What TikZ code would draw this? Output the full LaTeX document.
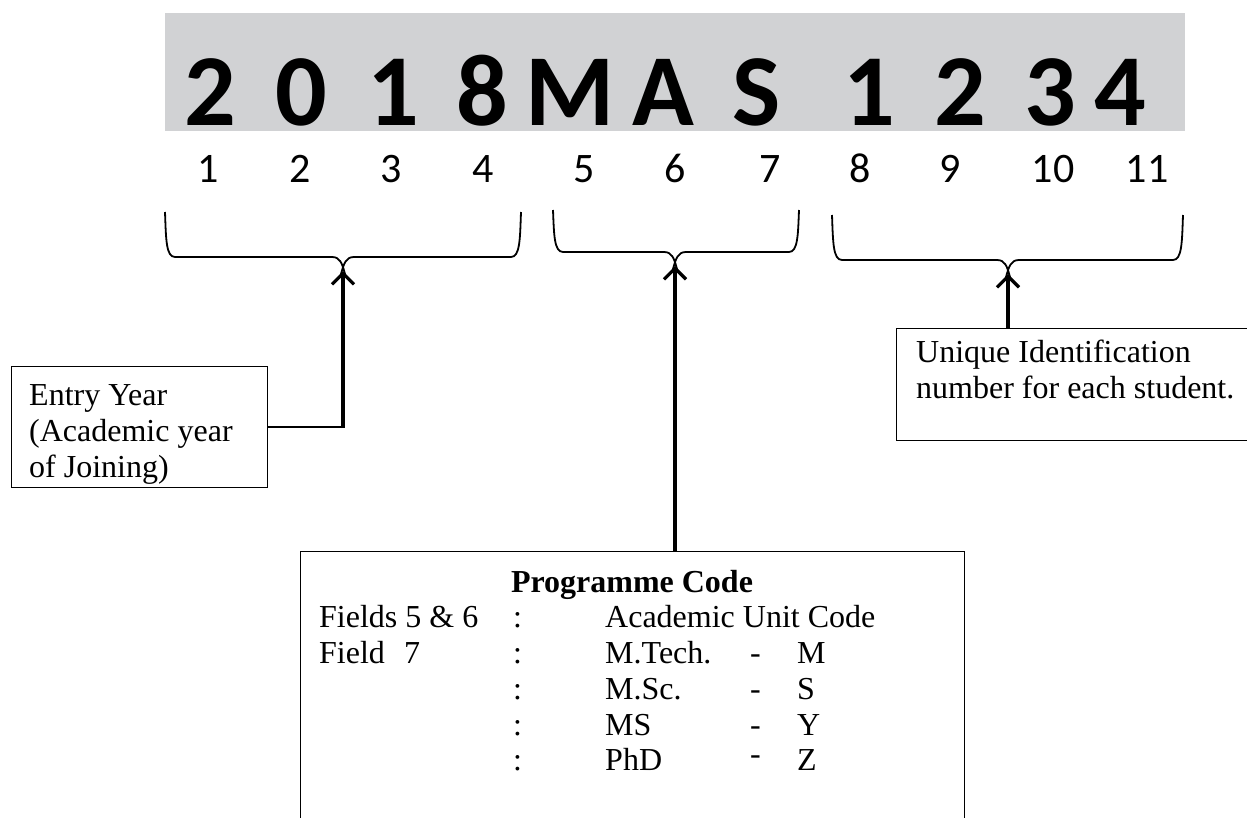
\documentclass[tikz,border=0pt]{standalone}
\usepackage{fontspec}
\setmainfont{Liberation Serif}
\newfontfamily\calibri{Carlito}
\usetikzlibrary{arrows.meta}
\definecolor{bannergray}{RGB}{209,210,212}

% bracket under a group of fields: #1 left x, #2 right x, #3 centre x,
% #4 top y, #5 y of the horizontal bar, #6 name of the tip coordinate
\newcommand\codebrace[6]{%
  \draw[bracket] (#1,#4) .. controls (#1+1,#5-18) and (#1+1,#5) .. (#1+10,#5)
    -- (#3-11,#5) .. controls (#3-3,#5) and (#3-1,#5+6) .. (#3+2,#5+17);
  \draw[bracket] (#2,#4) .. controls (#2-1,#5-18) and (#2-1,#5) .. (#2-10,#5)
    -- (#3+11,#5) .. controls (#3+3,#5) and (#3+1,#5+6) .. (#3-2,#5+17);
  \coordinate (#6) at (#3,#5+14);}

\begin{document}
\begin{tikzpicture}[x=1pt,y=-1pt,
  digit/.style={font=\calibri\bfseries\fontsize{102}{102}\selectfont, anchor=base, inner sep=0},
  fieldno/.style={font=\calibri\fontsize{42}{42}\selectfont, anchor=base, inner sep=0},
  txt/.style={font=\fontsize{32}{36}\selectfont, anchor=base west, inner sep=0},
  boxline/.style={draw=black, line width=1.3, inner sep=0, anchor=north west},
  bracket/.style={line width=1.8, line join=round},
  thinlink/.style={line width=1.6},
  arr/.style={line width=3.2, -{Straight Barb[length=11pt,width=22pt]}}]
\useasboundingbox (0,0) rectangle (1247,817);
\clip (0,0) rectangle (1247,817);

% the roll number on its grey strip
\fill[bannergray] (165,13) rectangle (1185,131);
\foreach \c/\x [count=\i] in {2/210,0/301,1/393,8/482,M/570,A/663,S/757,1/869,2/960,3/1050,4/1120}
  \node[digit] (d\i) at (\x,125) {\c};

% field positions
\foreach \x [count=\i] in {208,300,391,483,584,675,770,860,950,1053,1147}
  \node[fieldno] (p\i) at (\x,182) {\i};

% brackets over the three groups
\codebrace{165}{521}{343}{212}{257}{tipyear}
\codebrace{553}{799}{675}{210}{252}{tipprog}
\codebrace{832}{1183}{1008}{215}{260}{tipid}

% explanation boxes
\node[boxline, minimum width=256, minimum height=121] (entrybox) at (11,366) {};
\node[boxline, minimum width=420, minimum height=112] (uniquebox) at (896,328) {};
\node[boxline, minimum width=664, minimum height=320] (progbox) at (300,551) {};

% entry year text
\node[txt] (e1) at (29,405) {Entry Year};
\node[txt] (e2) at (29,441) {(Academic year};
\node[txt] (e3) at (29,477) {of Joining)};

% unique number text
\node[txt] (u1) at (916,362) {Unique Identification};
\node[txt] (u2) at (916,398) {number for each student.};

% programme code table
\node[txt, anchor=base, font=\bfseries\fontsize{32}{36}\selectfont] (ptitle) at (632,592) {Programme Code};
\node[txt] (r1a) at (319,627) {Fields 5 \& 6};
\node[txt] (r1b) at (513,627) {:};
\node[txt] (r1c) at (605,627) {Academic Unit Code};
\node[txt] (r2a) at (319,663) {Field};
\node[txt] (r2n) at (404,663) {7};
\foreach \y/\prog/\code/\lift [count=\k] in {663/M.Tech./M/0,699/M.Sc./S/0,735/MS/Y/0,770/PhD/Z/6}{
  \node[txt] (c\k) at (513,\y) {:};
  \node[txt] (n\k) at (605,\y) {\prog};
  \node[txt] (h\k) at (750,\y-\lift) {-};
  \node[txt] (l\k) at (797,\y) {\code};
}

% connectors
\draw[thinlink] (entrybox.east) -- (entrybox.east -| tipyear);
\draw[arr] ([yshift=-1pt]entrybox.east -| tipyear) -- (tipyear);
\draw[arr] (tipprog |- progbox.north) -- (tipprog);
\draw[arr] (tipid |- uniquebox.north) -- (tipid);
\end{tikzpicture}
\end{document}
